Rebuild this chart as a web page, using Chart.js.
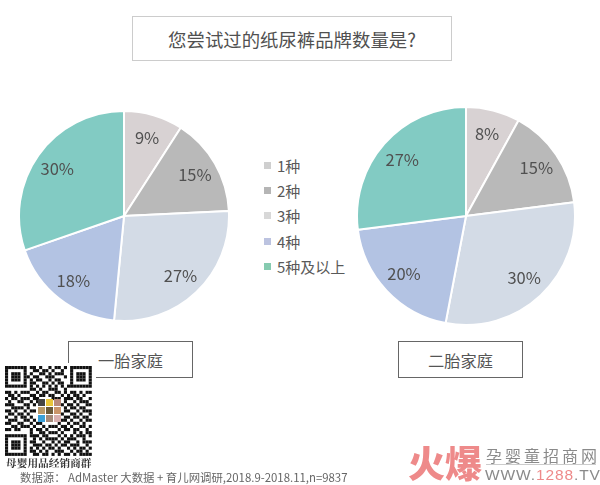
<!DOCTYPE html>
<html lang="zh"><head><meta charset="utf-8">
<script src="https://cdn.jsdelivr.net/npm/chart.js@4"></script>
<style>
html,body{margin:0;padding:0;background:#fff;overflow:hidden}
body{width:600px;height:485px;position:relative;font-family:"Noto Sans CJK SC","Noto Sans",sans-serif;color:#555}
.abs{position:absolute;box-sizing:border-box;white-space:nowrap}
.box{display:flex;align-items:center;justify-content:center;background:#fff}
canvas{display:block}
#legend div{display:flex;align-items:center;height:25.2px;font-size:15px;color:#595959}
#legend i{display:block;width:7px;height:7px;margin-right:6px;margin-left:1px}
</style></head><body>
<div class="abs box" id="title" style="left:132px;top:16px;width:320px;height:45px;border:1px solid #ccc;font-size:18.4px;color:#505050"></div>
<div class="abs" style="left:18px;top:110px;width:212px;height:212px"><canvas id="p1"></canvas></div>
<div class="abs" style="left:356px;top:106px;width:220px;height:220px"><canvas id="p2"></canvas></div>
<div class="abs" id="legend" style="left:263px;top:153px"></div>
<div class="abs box" id="n1" style="left:68px;top:341px;width:125px;height:37px;border:1px solid #666;font-size:16.3px"></div>
<div class="abs box" id="n2" style="left:398px;top:341px;width:125px;height:37px;border:1px solid #666;font-size:16.3px"></div>
<div class="abs" style="left:2px;top:363px;width:94px;height:94px;background:#fff"><canvas id="qr" width="94" height="94"></canvas></div>
<div class="abs" id="qrcap" style="left:6px;top:456px;font:bold 10.7px/14px 'Noto Serif CJK SC','Noto Sans CJK SC',serif;color:#333"></div>
<div class="abs" id="src" style="left:20px;top:470px;font-size:11.4px;line-height:14px;color:#666"></div>
<div class="abs" id="wm1" style="left:408px;top:439px;font-size:37px;line-height:46px;font-weight:900;color:#ee8a8a"></div>
<div class="abs" id="wm2" style="left:486px;top:446px;font-size:16px;line-height:18px;color:#8a8a8a;letter-spacing:3px"></div>
<div class="abs" style="left:486px;top:464px;width:110px;height:1px;background:#ccc"></div>
<div class="abs" id="wm3" style="left:485px;top:466px;font:15.5px/18px 'Liberation Sans',sans-serif;color:#8a8a8a;letter-spacing:.9px"><span id="w3a"></span><span id="w3b" style="color:#ee8a8a"></span></div>
<script>
const titleText = "您尝试过的纸尿裤品牌数量是?";
const categories = ["1种", "2种", "3种", "4种", "5种及以上"];
const firstChild = [9, 15, 27, 18, 30];
const secondChild = [8, 15, 30, 20, 27];
const firstName = "一胎家庭";
const secondName = "二胎家庭";
const sourceText = "数据源： AdMaster 大数据 + 育儿网调研,2018.9-2018.11,n=9837";
const sliceColors = ["#d8d2d3", "#b9b9b9", "#d3dbe6", "#b3c3e3", "#82cbc3"];
const legendColors = ["#cfcfcf", "#b5b5b5", "#d8d8d8", "#bcc3e0", "#86cbb0"];
const qrRows = [
"1111111011010010110101111111","1000001001101101001001000001","1011101010011010111001011101",
"1011101101100111000101011101","1011101010110010110001011101","1000001011001101011001000001",
"1111111010101010101011111111","0000000011010011100100000000","1101011100101100110101101011",
"0110100011011011001010110100","1011011101100001110111011001","0100110010100000010100101110",
"1110001101000000001011010011","0011110100000000000101101100","1101001011000000000110010111",
"0110110100000000001001101001","1001011010000000000110110110","0111001101000000001101001011",
"1100110010110000010010110100","0011011101001011101101001101","1101100010110100010110110010",
"0000000010011011101000101011","1111111011101100010101011101","1000001001010111101011100100",
"1011101011001001010110010111","1011101001110110101101110010","1011101010101011010010101101",
"1000001011010100111001011010","1111111001101101010110101111"];
const qrLogo = ["#444","#e8c53a","#b98a7a","#b99a6a","#6a5a3a","#c9956a","#3aa0d8","#a58a7a","#d8b0b0"];

document.getElementById("title").textContent = titleText;
document.getElementById("n1").textContent = firstName;
document.getElementById("n2").textContent = secondName;
document.getElementById("src").textContent = sourceText;
document.getElementById("qrcap").textContent = "母婴用品经销商群";
document.getElementById("wm1").textContent = "火爆";
document.getElementById("wm2").textContent = "孕婴童招商网";
document.getElementById("w3a").textContent = "WWW.";
document.getElementById("w3b").textContent = "1288";
document.getElementById("wm3").appendChild(document.createTextNode(".TV"));

const lg = document.getElementById("legend");
categories.forEach((c, i) => {
  const d = document.createElement("div");
  const s = document.createElement("i");
  s.style.background = legendColors[i];
  d.appendChild(s);
  d.appendChild(document.createTextNode(c));
  lg.appendChild(d);
});

const pctLabels = {
  id: "pctLabels",
  afterDatasetsDraw(chart) {
    const { ctx } = chart;
    const meta = chart.getDatasetMeta(0);
    ctx.save();
    ctx.font = '16.5px "Noto Sans CJK SC", "Noto Sans", sans-serif';
    ctx.fillStyle = "#505050";
    ctx.textAlign = "center";
    ctx.textBaseline = "middle";
    meta.data.forEach((arc, i) => {
      const mid = (arc.startAngle + arc.endAngle) / 2;
      const r = arc.outerRadius * 0.78;
      ctx.fillText(chart.data.datasets[0].data[i] + "%", arc.x + Math.cos(mid) * r, arc.y + Math.sin(mid) * r);
    });
    ctx.restore();
  }
};
function pie(id, values) {
  new Chart(document.getElementById(id), {
    type: "pie",
    data: { labels: categories, datasets: [{ data: values, backgroundColor: sliceColors, borderColor: "#fff", borderWidth: 2, hoverOffset: 0 }] },
    options: { responsive: true, maintainAspectRatio: false, animation: false, layout: { padding: 0 },
      plugins: { legend: { display: false }, tooltip: { enabled: false } } },
    plugins: [pctLabels]
  });
}
pie("p1", firstChild);
pie("p2", secondChild);

const q = document.getElementById("qr").getContext("2d");
const m = 3.1, ox = 3, oy = 3;
q.fillStyle = "#111";
qrRows.forEach((row, y) => [...row].forEach((b, x) => {
  if (b === "1") q.fillRect(ox + x * m, oy + y * m, m, m);
}));
qrLogo.forEach((c, i) => {
  q.fillStyle = c;
  q.fillRect(36 + (i % 3) * 8, 36 + Math.floor(i / 3) * 8, 7, 7);
});
</script>
</body></html>
